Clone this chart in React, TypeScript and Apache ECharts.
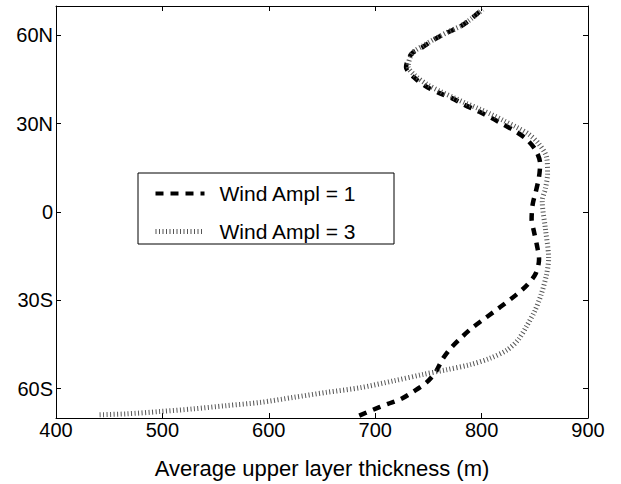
import React, { useEffect, useRef } from "react";
import * as echarts from "echarts";

const xMin = 400;
const xMax = 900;
const xStep = 100;
const latMin = -70;
const latMax = 70;
const latTicks = [-60, -30, 0, 30, 60];
const latLabels = ["60S", "30S", "0", "30N", "60N"];
const seriesNames = ["Wind Ampl = 1", "Wind Ampl = 3"];
const xTitle = "Average upper layer thickness (m)";

// Wind Ampl = 1 (dashed)
const wind1Thickness = [
  685, 704, 712, 724, 736, 748, 757, 763, 771, 780, 790, 801, 812, 823, 833, 843,
  851, 854, 852, 849, 847, 848, 851, 854, 855, 851, 842, 831, 820, 809, 797, 784,
  772, 761, 748, 736, 729, 734, 744, 756, 768, 780, 789, 800,
];
const wind1Lat = [
  -69.2, -66.3, -65.2, -63.6, -61, -58, -54.3, -50.2, -46.3, -43, -39.7, -36.7, -33.8, -30.8, -28, -24.7,
  -20.8, -16, -11.3, -6.3, -2.4, 2.6, 7, 12, 16.4, 20.9, 24.8, 27.6, 29.8, 32, 34.2, 36.4,
  38.7, 40.3, 42.6, 45.9, 49.2, 53.7, 55.9, 58.7, 61, 63, 65.3, 68.7,
];

// Wind Ampl = 3 (dotted)
const wind3Thickness = [
  441, 466, 498, 529, 560, 592, 623, 654, 686, 717, 745, 767, 789, 808, 824, 834,
  842, 850, 856, 861, 863, 860, 857, 860, 862, 861, 853, 844, 833, 821, 810, 798,
  785, 773, 761, 749, 737, 731, 735, 745, 757, 769, 781, 790, 801,
];
const wind3Lat = [
  -68.9, -68.6, -67.8, -66.9, -65.8, -64.7, -63, -61.3, -59.7, -57.4, -55.2, -53.6, -51.9, -49.7, -46.9, -43.6,
  -39, -33.6, -28, -21.3, -15.8, -5.8, 3.7, 8, 13, 18.7, 23.5, 26.5, 28.8, 31, 33, 35,
  37, 39, 41, 43.3, 46.5, 49.5, 54, 56.5, 59, 61.3, 63.3, 65.6, 68.8,
];

const FONT = "'Liberation Sans', Arial, Helvetica, sans-serif";

function zip(xs: number[], ys: number[]) {
  return xs.map((x, i) => [x, ys[i]]);
}

export default function App() {
  const ref = useRef<HTMLDivElement>(null);
  useEffect(() => {
    if (!ref.current) return;
    const chart = echarts.init(ref.current, undefined, { renderer: "svg" });
    const latFmt = (v: number) => {
      const i = latTicks.indexOf(v);
      return i >= 0 ? latLabels[i] : "";
    };
    const baseX = {
      type: "value" as const,
      min: xMin,
      max: xMax,
      interval: xStep,
      splitLine: { show: false },
      axisLine: { show: true, onZero: false, lineStyle: { color: "#000", width: 1 } },
      axisTick: { show: true, inside: true, length: 5, lineStyle: { color: "#000", width: 1 } },
    };
    const baseY = {
      type: "value" as const,
      min: latMin,
      max: latMax,
      splitLine: { show: false },
      axisLine: { show: true, onZero: false, lineStyle: { color: "#000", width: 1 } },
      axisTick: {
        show: true,
        inside: true,
        length: 5,
        customValues: latTicks,
        lineStyle: { color: "#000", width: 1 },
      },
    };
    const dashStyle = { color: "#000", width: 4.5, type: [8, 7], cap: "butt" };
    const dotStyle = { color: "#555", width: 5, type: [1, 2.5], cap: "butt" };
    chart.setOption({
      animation: false,
      backgroundColor: "#fff",
      grid: { left: 56, right: 33, top: 6, bottom: 59, containLabel: false },
      xAxis: [
        {
          ...baseX,
          position: "bottom",
          name: xTitle,
          nameLocation: "middle",
          nameGap: 39,
          nameTextStyle: { fontSize: 22, color: "#000", fontFamily: FONT },
          axisLabel: { fontSize: 20, color: "#000", margin: 2, fontFamily: FONT },
        },
        { ...baseX, position: "top", axisLabel: { show: false } },
      ],
      yAxis: [
        {
          ...baseY,
          position: "left",
          axisLabel: {
            fontSize: 20,
            color: "#000",
            margin: 3,
            fontFamily: FONT,
            customValues: latTicks,
            formatter: latFmt,
          },
        },
        { ...baseY, position: "right", axisLabel: { show: false } },
      ],
      legend: {
        orient: "vertical",
        left: 153,
        top: 183,
        padding: 0,
        itemWidth: 49,
        itemHeight: 14,
        itemGap: 17,
        z: 10,
        data: [
          { name: seriesNames[0], itemStyle: { opacity: 0 }, lineStyle: { ...dashStyle, width: 4 } },
          { name: seriesNames[1], itemStyle: { opacity: 0 }, lineStyle: { ...dotStyle, width: 5 } },
        ],
        itemStyle: { opacity: 0 },
        textStyle: { fontSize: 21, color: "#000", fontFamily: FONT, padding: [0, 0, 0, 10] },
      },
      graphic: [
        {
          type: "rect",
          z: 5,
          shape: { x: 138, y: 173, width: 256, height: 71 },
          style: { fill: "#fff", stroke: "#000", lineWidth: 1 },
        },
      ],
      series: [
        {
          name: seriesNames[0],
          type: "line",
          data: zip(wind1Thickness, wind1Lat),
          symbol: "none",
          smooth: 0.3,
          xAxisIndex: 0,
          yAxisIndex: 0,
          lineStyle: dashStyle,
          itemStyle: { color: "#000" },
        },
        {
          name: seriesNames[1],
          type: "line",
          data: zip(wind3Thickness, wind3Lat),
          symbol: "none",
          smooth: 0.3,
          xAxisIndex: 0,
          yAxisIndex: 0,
          lineStyle: dotStyle,
          itemStyle: { color: "#555" },
        },
      ],
    });
    return () => chart.dispose();
  }, []);
  return (
    <div
      ref={ref}
      style={{ position: "fixed", left: 0, top: 0, width: 621, height: 484, background: "#fff" }}
    />
  );
}
